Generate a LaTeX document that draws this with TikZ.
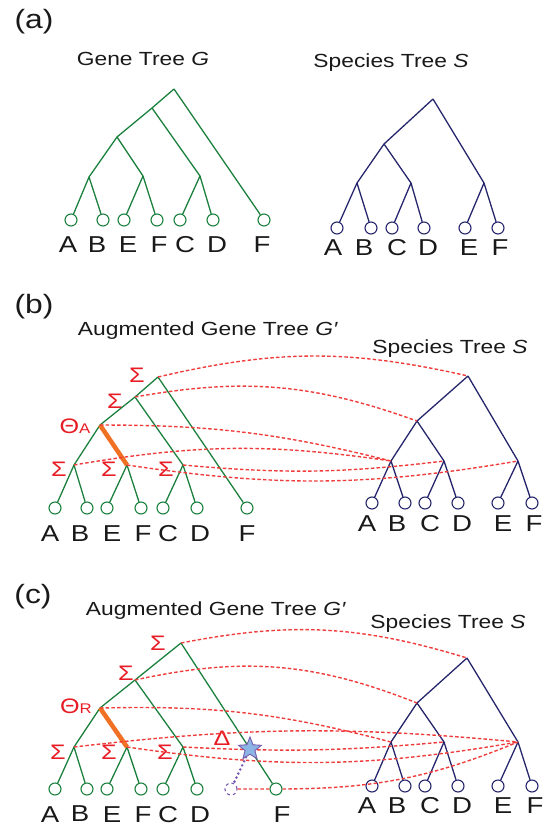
\documentclass[tikz,border=0pt]{standalone}
\usepackage{fontspec}
\setmainfont{Liberation Sans}[FakeStretch=1.2]
\usepackage{tikz}
\usetikzlibrary{
    shapes.geometric,
    positioning,
    calc
}
\definecolor{genegreen}{RGB}{28,128,62}
\definecolor{speciesnavy}{RGB}{38,38,108}
\definecolor{mapred}{RGB}{240,60,60}
\definecolor{eventred}{RGB}{232,28,36}
\definecolor{branchorange}{RGB}{240,112,36}
\definecolor{dupfill}{RGB}{140,180,228}
\definecolor{dupline}{RGB}{120,90,175}
\definecolor{inkgray}{RGB}{25,25,25}
\tikzset{
  gene/.style = {
      draw=genegreen,
      line width=1.3pt
  },
  species/.style = {
      draw=speciesnavy,
      line width=1.3pt
  },
  leaf/.style = {
      circle,
      fill=white,
      line width=1.1pt,
      minimum size=12pt,
      inner sep=0pt
  },
  gleaf/.style = {
      leaf,
      draw=genegreen
  },
  sleaf/.style = {
      leaf,
      draw=speciesnavy
  },
  taxon/.style = {
      text=inkgray,
      font=\fontsize{23}{23}\selectfont,
      inner sep=0pt,
      text height=16.5pt,
      text depth=0pt
  },
  title/.style = {
      text=inkgray,
      anchor=base,
      inner sep=0pt,
      font=\fontsize{19}{20}\selectfont
  },
  panel/.style = {
      text=inkgray,
      font=\fontsize{26.5}{28}\selectfont
  },
  event/.style = {
      text=eventred,
      inner sep=0pt,
      font=\fontsize{21}{21}\selectfont
  },
  mapping/.style = {
      draw=mapred,
      line width=1.4pt,
      dash pattern=on 3.5pt off 2.2pt
  },
  transfer/.style = {
      draw=branchorange,
      line width=4.5pt
  },
  dup/.style = {
      star,
      star points=5,
      star point ratio=2.3,
      minimum size=24pt,
      inner sep=0pt,
      fill=dupfill,
      draw=dupline,
      line width=0.9pt
  },
  lost/.style = {
      circle,
      draw=dupline,
      dashed,
      line width=1.1pt,
      minimum size=12pt,
      inner sep=0pt
  }
}

\begin{document}
\begin{tikzpicture}[x=1pt, y=-1pt]
    \useasboundingbox (0,0) rectangle (546,827);

    % ---------------- (a) ----------------
    \node[panel] (pa) at (34,22) {(a)};
    \node[title] (aTitleG) at (143,65) {Gene Tree \textit{G}};
    \node[title] (aTitleS) at (391,67) {Species Tree \textit{S}};
    % Gene tree nodes
    \coordinate (aR) at (174,89);
    \coordinate (aN2) at (152,108);
    \coordinate (aN3) at (117,137);
    \coordinate (aAB) at (89,177);
    \coordinate (aEF) at (143,176);
    \coordinate (aCD) at (200,176);
    \node[gleaf] (aA) at (71,220) {};
    \node[gleaf] (aB) at (103,220) {};
    \node[gleaf] (aE) at (124,220) {};
    \node[gleaf] (aF) at (157,220) {};
    \node[gleaf] (aC) at (180,220) {};
    \node[gleaf] (aD) at (213,220) {};
    \node[gleaf] (aFF) at (264,220) {};
    \node[taxon, below=9pt of aA, xshift=-3pt] {A};
    \node[taxon, below=9pt of aB, xshift=-6pt] {B};
    \node[taxon, below=9pt of aE, xshift=4pt] {E};
    \node[taxon, below=9pt of aF, xshift=2pt] {F};
    \node[taxon, below=9pt of aC, xshift=5pt] {C};
    \node[taxon, below=9pt of aD, xshift=4pt] {D};
    \node[taxon, below=9pt of aFF, xshift=-2pt] {F};
    % Gene tree edges
    \path[gene]
    (aR) -- (aN2) -- (aN3)
    (aR) -- (aFF)
    (aN2) -- (aCD)
    (aN3) -- (aAB)
    (aN3) -- (aEF)
    (aAB) -- (aA)
    (aAB) -- (aB)
    (aEF) -- (aE)
    (aEF) -- (aF)
    (aCD) -- (aC)
    (aCD) -- (aD);
    % Species tree nodes
    \coordinate (asR) at (433,99);
    \coordinate (asABCD) at (384,144);
    \coordinate (asAB) at (357,183);
    \coordinate (asCD) at (411,183);
    \coordinate (asEF) at (484,183);
    \node[sleaf] (asA) at (337,228) {};
    \node[sleaf] (asB) at (371,228) {};
    \node[sleaf] (asC) at (392,228) {};
    \node[sleaf] (asD) at (424,228) {};
    \node[sleaf] (asE) at (465,228) {};
    \node[sleaf] (asF) at (498,228) {};
    \node[taxon, below=4pt of asA, xshift=-4pt] {A};
    \node[taxon, below=4pt of asB, xshift=-7pt] {B};
    \node[taxon, below=4pt of asC, xshift=5pt] {C};
    \node[taxon, below=4pt of asD, xshift=4pt] {D};
    \node[taxon, below=4pt of asE, xshift=4pt] {E};
    \node[taxon, below=4pt of asF, xshift=2pt] {F};
    % Species tree edges
    \path[species]
    (asR) -- (asABCD)
    (asR) -- (asEF)
    (asABCD) -- (asAB)
    (asABCD) -- (asCD)
    (asAB) -- (asA)
    (asAB) -- (asB)
    (asCD) -- (asC)
    (asCD) -- (asD)
    (asEF) -- (asE)
    (asEF) -- (asF);

    % ---------------- (b) ----------------
    \node[panel] (pb) at (34,307) {(b)};
    \node[title] (bTitleG) at (208,335) {Augmented Gene Tree \textit{G′}};
    \node[title] (bTitleS) at (450,353) {Species Tree \textit{S}};
    % Gene tree nodes
    \coordinate (bR) at (158,377);
    \coordinate (bN2) at (135,397);
    \coordinate (bN3) at (100,425);
    \coordinate (bAB) at (74,465);
    \coordinate (bEF) at (127,465);
    \coordinate (bCD) at (183,465);
    \node[gleaf] (bA) at (55,508) {};
    \node[gleaf] (bB) at (87,508) {};
    \node[gleaf] (bE) at (107,508) {};
    \node[gleaf] (bF) at (141,508) {};
    \node[gleaf] (bC) at (163,508) {};
    \node[gleaf] (bD) at (197,508) {};
    \node[gleaf] (bFF) at (247,508) {};
    \node[taxon, below=10pt of bA, xshift=-5pt] {A};
    \node[taxon, below=10pt of bB, xshift=-7pt] {B};
    \node[taxon, below=10pt of bE, xshift=5pt] {E};
    \node[taxon, below=10pt of bF, xshift=2pt] {F};
    \node[taxon, below=10pt of bC, xshift=5pt] {C};
    \node[taxon, below=10pt of bD, xshift=3pt] {D};
    \node[taxon, below=10pt of bFF] {F};
    % Events
    \node[event] (bSig1) at (137,375) {Σ};
    \node[event] (bSig2) at (115,401) {Σ};
    \node[event] (bTheta) at (75,426) {Θ{\fontsize{14}{14}\selectfont A}};
    \node[event] (bSig3) at (59,469) {Σ};
    \node[event] (bSig4) at (109,469) {Σ};
    \node[event] (bSig5) at (166,469) {Σ};
    % Gene tree edges
    \path[gene]
    (bR) -- (bN2) -- (bN3)
    (bR) -- (bFF)
    (bN2) -- (bCD)
    (bN3) -- (bAB)
    (bN3) -- (bEF)
    (bAB) -- (bA)
    (bAB) -- (bB)
    (bEF) -- (bE)
    (bEF) -- (bF)
    (bCD) -- (bC)
    (bCD) -- (bD);
    \path[transfer] (bN3) -- (bEF);
    % Species tree nodes
    \coordinate (bsR) at (468,376);
    \coordinate (bsABCD) at (417,421);
    \coordinate (bsAB) at (391,461);
    \coordinate (bsCD) at (444,461);
    \coordinate (bsEF) at (518,461);
    \node[sleaf] (bsA) at (372,503) {};
    \node[sleaf] (bsB) at (405,503) {};
    \node[sleaf] (bsC) at (425,503) {};
    \node[sleaf] (bsD) at (458,503) {};
    \node[sleaf] (bsE) at (498,503) {};
    \node[sleaf] (bsF) at (532,503) {};
    \node[taxon, below=5pt of bsA, xshift=-5pt] {A};
    \node[taxon, below=5pt of bsB, xshift=-8pt] {B};
    \node[taxon, below=5pt of bsC, xshift=5pt] {C};
    \node[taxon, below=5pt of bsD, xshift=4pt] {D};
    \node[taxon, below=5pt of bsE, xshift=5pt] {E};
    \node[taxon, below=5pt of bsF, xshift=2pt] {F};
    % Species tree edges
    \path[species]
    (bsR) -- (bsABCD)
    (bsR) -- (bsEF)
    (bsABCD) -- (bsAB)
    (bsABCD) -- (bsCD)
    (bsAB) -- (bsA)
    (bsAB) -- (bsB)
    (bsCD) -- (bsC)
    (bsCD) -- (bsD)
    (bsEF) -- (bsE)
    (bsEF) -- (bsF);
    % Mappings
    \path[mapping]
    (bR) to[bend left=13] (bsR)
    (bN2) to[bend left=15] (bsABCD)
    (bN3) to[bend left=7] (bsAB)
    (bAB) to[bend left=9] (bsAB)
    (bCD) to[bend right=6] (bsCD)
    (bEF) to[bend right=9] (bsEF);

    % ---------------- (c) ----------------
    \node[panel] (pc) at (33,597) {(c)};
    \node[title] (cTitleG) at (216,615) {Augmented Gene Tree \textit{G′}};
    \node[title] (cTitleS) at (448,628) {Species Tree \textit{S}};
    % Gene tree nodes
    \coordinate (cR) at (181,643);
    \coordinate (cN2) at (135,680);
    \coordinate (cN3) at (100,708);
    \coordinate (cAB) at (74,747);
    \coordinate (cEF) at (127,747);
    \coordinate (cCD) at (183,747);
    \node[gleaf] (cA) at (55,789) {};
    \node[gleaf] (cB) at (87,789) {};
    \node[gleaf] (cE) at (107,789) {};
    \node[gleaf] (cF) at (141,789) {};
    \node[gleaf] (cC) at (163,789) {};
    \node[gleaf] (cD) at (197,789) {};
    \node[gleaf] (cFF) at (276,789) {};
    \node[lost] (cLost) at (231,789) {};
    \node[taxon, below=10pt of cA, xshift=-5pt] {A};
    \node[taxon, below=9pt of cB, xshift=-7pt] {B};
    \node[taxon, below=10pt of cE, xshift=5pt] {E};
    \node[taxon, below=10pt of cF, xshift=2pt] {F};
    \node[taxon, below=10pt of cC, xshift=5pt] {C};
    \node[taxon, below=10pt of cD, xshift=3pt] {D};
    \node[taxon, below=10pt of cFF, xshift=6pt] {F};
    % Events
    \node[event] (cSig1) at (158,643) {Σ};
    \node[event] (cSig2) at (126,673) {Σ};
    \node[event] (cTheta) at (76,706) {Θ{\fontsize{14}{14}\selectfont R}};
    \node[event] (cSig3) at (58,752) {Σ};
    \node[event] (cSig4) at (109,752) {Σ};
    \node[event] (cSig5) at (165,752) {Σ};
    \node[event] (cDelta) at (222,738) {Δ};
    % Gene tree edges
    \path[gene]
    (cR) -- (cN2) -- (cN3)
    (cR) -- (cFF)
    (cN2) -- (cCD)
    (cN3) -- (cAB)
    (cN3) -- (cEF)
    (cAB) -- (cA)
    (cAB) -- (cB)
    (cEF) -- (cE)
    (cEF) -- (cF)
    (cCD) -- (cC)
    (cCD) -- (cD);
    \path[transfer] (cN3) -- (cEF);
    % Species tree nodes
    \coordinate (csR) at (467,658);
    \coordinate (csABCD) at (417,703);
    \coordinate (csAB) at (391,742);
    \coordinate (csCD) at (444,742);
    \coordinate (csEF) at (518,742);
    \node[sleaf] (csA) at (372,786) {};
    \node[sleaf] (csB) at (405,786) {};
    \node[sleaf] (csC) at (425,786) {};
    \node[sleaf] (csD) at (458,786) {};
    \node[sleaf] (csE) at (498,786) {};
    \node[sleaf] (csF) at (532,786) {};
    \node[taxon, below=4pt of csA, xshift=-5pt] {A};
    \node[taxon, below=4pt of csB, xshift=-8pt] {B};
    \node[taxon, below=4pt of csC, xshift=5pt] {C};
    \node[taxon, below=4pt of csD, xshift=4pt] {D};
    \node[taxon, below=4pt of csE, xshift=5pt] {E};
    \node[taxon, below=4pt of csF, xshift=3pt] {F};
    % Species tree edges
    \path[species]
    (csR) -- (csABCD)
    (csR) -- (csEF)
    (csABCD) -- (csAB)
    (csABCD) -- (csCD)
    (csAB) -- (csA)
    (csAB) -- (csB)
    (csCD) -- (csC)
    (csCD) -- (csD)
    (csEF) -- (csE)
    (csEF) -- (csF);
    % Mappings
    \path[mapping]
    (cR) to[bend left=14] (csR)
    (cN2) to[bend left=17] (csABCD)
    (cN3) to[bend left=8] (csAB)
    (cAB) to[bend left=6] (csEF)
    (cCD) to[bend right=4] (csCD)
    (cEF) to[bend right=9] (csEF)
    (cLost) -- (cFF)
    (cFF) to[bend right=11] (csEF);
    % Duplication on the F branch
    \node[dup] (cDup) at ($(cR)!0.726!(cFF)$) {};
    \draw[dupline, line width=2.8pt, line cap=round, dash pattern=on 0pt off 4.5pt]
    (cDup) -- (cLost);
\end{tikzpicture}
\end{document}
